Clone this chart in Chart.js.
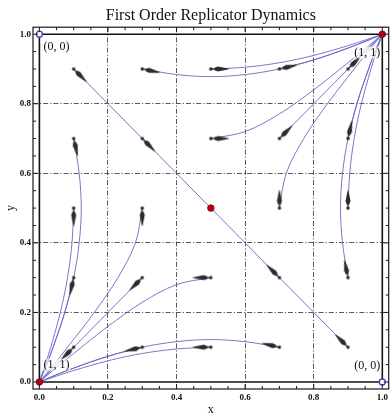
<!DOCTYPE html>
<html><head><meta charset="utf-8">
<script src="https://cdn.jsdelivr.net/npm/chart.js@4.4.1/dist/chart.umd.min.js"></script>
<style>html,body{margin:0;padding:0;background:#fff;overflow:hidden;}canvas{display:block;}</style>
</head><body>
<canvas id="c" width="394" height="416" style="width:394px;height:416px"></canvas>
<script>
// ---- axis ticks ----
const tickValues = [0,0.05,0.1,0.15,0.2,0.25,0.3,0.35,0.4,0.45,0.5,0.55,0.6,0.65,0.7,0.75,0.8,0.85,0.9,0.95,1];
const majorTickValues = [0,0.2,0.4,0.6,0.8,1];
const majorTickLabels = ['0.0','0.2','0.4','0.6','0.8','1.0'];
const gridValues = [0.2,0.4,0.6,0.8];

// ---- rest points ----
const stablePoints = [[0,0],[1,1],[0.5,0.5]];
const unstablePoints = [[0,1],[1,0]];

// ---- start points of the sampled trajectories, and the tips of their direction arrows ----
const starts = [[0.1,0.9],[0.3,0.9],[0.5,0.9],[0.7,0.9],[0.9,0.9],
                [0.1,0.7],[0.3,0.7],[0.5,0.7],[0.7,0.7],[0.9,0.7],
                [0.1,0.5],[0.3,0.5],[0.7,0.5],[0.9,0.5],
                [0.1,0.3],[0.3,0.3],[0.5,0.3],[0.7,0.3],[0.9,0.3],
                [0.1,0.1],[0.3,0.1],[0.5,0.1],[0.7,0.1],[0.9,0.1]];
const arrowTips = [[0.135,0.865],[0.349,0.89],[0.55,0.9],[0.749,0.911],[0.935,0.935],
                   [0.111,0.651],[0.335,0.665],[0.55,0.7],[0.735,0.735],[0.911,0.749],
                   [0.1,0.45],[0.3,0.45],[0.7,0.55],[0.9,0.55],
                   [0.089,0.251],[0.265,0.265],[0.45,0.3],[0.665,0.335],[0.89,0.349],
                   [0.065,0.065],[0.251,0.089],[0.45,0.1],[0.651,0.111],[0.865,0.135]];

// ---- trajectories flowing to (1,1) ----
const trajTo11 = [
  [[0.3,0.9],[0.4,0.884],[0.5,0.878],[0.6,0.884],[0.7,0.9],[0.8,0.926],[0.9,0.96],[0.95,0.979],[1,1]],
  [[0.5,0.9],[0.6,0.905],[0.7,0.918],[0.8,0.939],[0.9,0.967],[0.95,0.983],[1,1]],
  [[0.7,0.9],[0.8,0.926],[0.9,0.96],[0.95,0.979],[1,1]],
  [[0.9,0.9],[1,1]],
  [[0.5,0.7],[0.6,0.72],[0.7,0.771],[0.8,0.84],[0.9,0.918],[0.95,0.958],[1,1]],
  [[0.7,0.7],[1,1]],
  [[0.9,0.7],[0.926,0.8],[0.96,0.9],[0.979,0.95],[1,1]],
  [[0.7,0.5],[0.72,0.6],[0.771,0.7],[0.84,0.8],[0.918,0.9],[0.958,0.95],[1,1]],
  [[0.9,0.5],[0.905,0.6],[0.918,0.7],[0.939,0.8],[0.967,0.9],[0.983,0.95],[1,1]],
  [[0.9,0.3],[0.884,0.4],[0.878,0.5],[0.884,0.6],[0.9,0.7],[0.926,0.8],[0.96,0.9],[0.979,0.95],[1,1]]
];
// ---- trajectories flowing to (0,0) ----
const trajTo00 = [
  [[0.7,0.1],[0.6,0.116],[0.5,0.122],[0.4,0.116],[0.3,0.1],[0.2,0.074],[0.1,0.04],[0.05,0.021],[0,0]],
  [[0.5,0.1],[0.4,0.095],[0.3,0.082],[0.2,0.061],[0.1,0.033],[0.05,0.017],[0,0]],
  [[0.3,0.1],[0.2,0.074],[0.1,0.04],[0.05,0.021],[0,0]],
  [[0.1,0.1],[0,0]],
  [[0.5,0.3],[0.4,0.28],[0.3,0.229],[0.2,0.16],[0.1,0.082],[0.05,0.042],[0,0]],
  [[0.3,0.3],[0,0]],
  [[0.1,0.3],[0.074,0.2],[0.04,0.1],[0.021,0.05],[0,0]],
  [[0.3,0.5],[0.28,0.4],[0.229,0.3],[0.16,0.2],[0.082,0.1],[0.042,0.05],[0,0]],
  [[0.1,0.5],[0.095,0.4],[0.082,0.3],[0.061,0.2],[0.033,0.1],[0.017,0.05],[0,0]],
  [[0.1,0.7],[0.116,0.6],[0.122,0.5],[0.116,0.4],[0.1,0.3],[0.074,0.2],[0.04,0.1],[0.021,0.05],[0,0]]
];
// ---- separatrix through the saddle ----
const separatrix = [[0.1,0.9],[0.5,0.5],[0.9,0.1]];
// ---- invariant edges of the square ----
const edges = [ [[0,0],[1,0]], [[0,1],[1,1]], [[0,0],[0,1]], [[1,0],[1,1]] ];

// ---- point annotations ----
const annotationTexts = ['(0, 0)','(1, 1)','(1, 1)','(0, 0)'];
const annotationAnchors = [[0.05,0.964],[0.956,0.947],[0.05,0.05],[0.956,0.047]];

const SERIF = "'Liberation Serif','DejaVu Serif',serif";
const pts = a => a.map(([x,y]) => ({x,y}));
const near = (a,b) => Math.abs(a-b) < 1e-6;

// tapered arrow glyph (start dot at centre, pointing to +x)
const arrowImg = document.createElement('canvas');
arrowImg.width = 44; arrowImg.height = 10;
(function(){
  const g = arrowImg.getContext('2d');
  g.fillStyle = '#2c2c2c'; g.strokeStyle = '#2c2c2c';
  g.beginPath(); g.arc(22,5,1.7,0,Math.PI*2); g.fill();
  g.lineWidth = 1; g.beginPath(); g.moveTo(22,5); g.lineTo(27,5); g.stroke();
  g.beginPath();
  g.moveTo(25.5,5-1.2); g.lineTo(29,5-2.5); g.lineTo(39,5-0.6); g.lineTo(40.5,5);
  g.lineTo(39,5+0.6); g.lineTo(29,5+2.5); g.lineTo(25.5,5+1.2); g.closePath(); g.fill();
})();
const arrowRot = starts.map(([sx,sy],i) => Math.atan2(-(arrowTips[i][1]-sy), arrowTips[i][0]-sx)*180/Math.PI);

const lineDs = (data, color, width) => ({
  data: pts(data), showLine: true, borderColor: color, borderWidth: width,
  pointRadius: 0, tension: 0.35, fill: false
});
const BLUE = 'rgba(105,105,195,0.9)';

const datasets = [
  { data: pts(stablePoints), pointRadius: 3.3, backgroundColor: '#b3001b', borderColor: '#8a0010', borderWidth: 0.8 },
  { data: pts(unstablePoints), pointRadius: 3, backgroundColor: '#fff', borderColor: '#3b45b8', borderWidth: 1.3 },
  { data: pts(starts), pointStyle: arrowImg, rotation: arrowRot, pointRadius: 3 },
  ...edges.map(e => lineDs(e, '#111', 1.6)),
  lineDs(separatrix, BLUE, 1),
  ...trajTo11.map(t => lineDs(t, BLUE, 1)),
  ...trajTo00.map(t => lineDs(t, BLUE, 1))
];

const framePlugin = {
  id: 'frame',
  afterDatasetsDraw(chart) {
    const {ctx, chartArea: a, scales: {x, y}} = chart;
    ctx.save();
    ctx.strokeStyle = '#1a1a1a'; ctx.lineWidth = 1.2;
    ctx.strokeRect(a.left, a.top, a.right - a.left, a.bottom - a.top);
    ctx.lineWidth = 1;
    ctx.beginPath();
    tickValues.forEach(v => {
      const L = majorTickValues.some(m => near(m, v)) ? 5 : 3;
      const px = x.getPixelForValue(v), py = y.getPixelForValue(v);
      ctx.moveTo(px, a.bottom); ctx.lineTo(px, a.bottom - L);
      ctx.moveTo(px, a.top); ctx.lineTo(px, a.top + L);
      ctx.moveTo(a.left, py); ctx.lineTo(a.left + L, py);
      ctx.moveTo(a.right, py); ctx.lineTo(a.right - L, py);
    });
    ctx.stroke();
    // annotations
    ctx.font = '12px ' + SERIF;
    ctx.textAlign = 'center'; ctx.textBaseline = 'middle';
    annotationTexts.forEach((t, i) => {
      const px = x.getPixelForValue(annotationAnchors[i][0]);
      const py = y.getPixelForValue(annotationAnchors[i][1]);
      const w = ctx.measureText(t).width;
      ctx.fillStyle = 'rgba(255,255,255,0.65)';
      ctx.fillRect(px - w/2 - 1, py - 6, w + 2, 12);
      ctx.fillStyle = '#111';
      ctx.fillText(t, px, py);
    });
    ctx.restore();
  }
};

const axisCommon = (isX) => ({
  type: 'linear',
  min: isX ? -0.01868 : -0.0201,
  max: isX ? 1.01868 : 1.0201,
  afterBuildTicks: s => { s.ticks = tickValues.map(v => ({value: v})); },
  afterFit: s => { if (isX) s.height = 27; else s.width = 33; },
  grid: {
    drawTicks: false, lineWidth: 1,
    color: c => (c.tick && gridValues.some(g => near(g, c.tick.value))) ? 'rgba(60,60,60,0.85)' : 'rgba(0,0,0,0)'
  },
  border: { display: false, dash: [5, 2, 1.2, 2] },
  ticks: {
    autoSkip: false, maxRotation: 0, minRotation: 0, padding: isX ? 3 : 2,
    color: '#111', font: { family: SERIF, size: 9, weight: 'bold' },
    callback: v => { const i = majorTickValues.findIndex(m => near(m, v)); return i >= 0 ? majorTickLabels[i] : ''; }
  },
  title: {
    display: true, text: isX ? 'x' : 'y', color: '#111',
    font: { family: SERIF, size: 12, lineHeight: 1 },
    padding: isX ? { top: 0, bottom: 0 } : { top: 5, bottom: 0 }
  }
});

new Chart(document.getElementById('c'), {
  type: 'scatter',
  data: { datasets },
  options: {
    responsive: false, animation: false, devicePixelRatio: 1,
    layout: { padding: 0 },
    plugins: {
      legend: { display: false }, tooltip: { enabled: false },
      title: {
        display: true, text: 'First Order Replicator Dynamics', fullSize: false,
        color: '#111', font: { family: SERIF, size: 16, weight: 'normal' },
        padding: { top: 6, bottom: 2 }
      }
    },
    scales: { x: axisCommon(true), y: axisCommon(false) }
  },
  plugins: [framePlugin]
});
</script>
</body></html>
